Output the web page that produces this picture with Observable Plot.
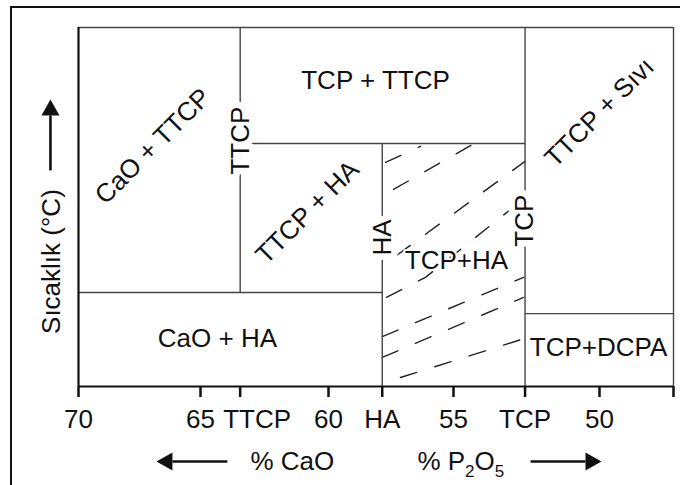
<!DOCTYPE html>
<html><head><meta charset="utf-8">
<script src="https://cdn.jsdelivr.net/npm/d3@7"></script>
<script src="https://cdn.jsdelivr.net/npm/@observablehq/plot@0.6"></script>
<style>
html,body{margin:0;padding:0;background:#fff;overflow:hidden;}
#wrap{position:relative;width:680px;height:485px;overflow:hidden;}
#border{position:absolute;left:10px;top:6px;width:720px;height:540px;border-top:2.5px solid #111;border-left:2.5px solid #111;}
#chart{position:absolute;left:0;top:0;}
</style></head><body>
<div id="wrap"><div id="border"></div><div id="chart"></div></div>
<script>
// x axis (% CaO, decreasing to the right): tick values and their labels
const tickValues = [70, 65, 63.45, 60, 57.85, 55, 52.55, 50, 47.5];
const tickLabels = ["70", "65", "TTCP", "60", "HA", "55", "TCP", "50", ""];
// compounds (composition lines) and where their names sit on the line (temperature units 0-100)
const compounds = ["TTCP", "HA", "TCP"];
const compoundCaO = [63.45, 57.85, 52.55];
const compoundLabelT = [68.5, 41.5, 46.2];
// phase boundary segments
const boundX1 = [63.45, 63.45, 57.85, 70, 52.55, 52.55];
const boundY1 = [100, 67.7, 67.7, 26.2, 100, 20.3];
const boundX2 = [63.45, 52.55, 57.85, 57.85, 52.55, 47.5];
const boundY2 = [26.2, 67.7, 0, 26.2, 0, 20.3];
// phase region labels
const regionNames = ["CaO + TTCP", "TCP + TTCP", "TTCP + HA", "TTCP + Sıvı", "TCP+HA", "CaO + HA", "TCP+DCPA"];
const regionX = [66.95, 58.12, 60.82, 50.0, 54.9, 64.34, 50.03];
const regionT = [66.9, 85.2, 48.5, 76.3, 35.1, 13.4, 10.9];
const regionAngle = [-45, 0, -45, -45, 0, 0, 0];
// dashed hatch lines in the TCP+HA field: [CaO, T] points
const hatchLines = [
  [[57.12, 2.5], [52.67, 13.1]],
  [[57.85, 8.1], [52.60, 24.8]],
  [[57.85, 13.9], [52.60, 30.4]],
  [[57.68, 24.8], [56.12, 30.4], [53.05, 49.3]],
  [[57.28, 36.5], [52.55, 62.7]],
  [[57.40, 54.9], [54.35, 67.4]],
  [[57.72, 62.4], [56.32, 66.9]]
];
// axis titles and direction arrows
const titles = ["Sıcaklık (°C)", "% CaO", "% P2O5"];
const titleX = [71.1, 61.41, 54.75];
const titleT = [34.8, -20.9, -20.9];
const titleAngle = [-90, 0, 0];
const arrowX1 = [71.15, 63.95, 52.36];
const arrowY1 = [60.2, -20.9, -20.9];
const arrowX2 = [71.15, 66.15, 50.48];
const arrowY2 = [75.5, -20.9, -20.9];
const arrowDir = [0, -90, 90];
// breakpoints of the schematic (non-uniform) % CaO axis
const warpDomain = [47.5, 50, 55, 60, 65, 70];
const warpRange = [595, 521, 375, 250, 122, 0];

const warp = d3.scaleLinear().domain(warpDomain).range(warpRange);
const labelOf = new Map(tickValues.map((v, i) => [v, tickLabels[i]]));
const hatchRows = hatchLines.flatMap((pts, k) => pts.map(([x, y]) => ({x, y, k})));
const bIdx = d3.range(boundX1.length);
const aIdx = d3.range(arrowX1.length);
const ink = "#111";
const lineCol = "#444";

const chart = Plot.plot({
  width: 680,
  height: 485,
  marginTop: 27,
  marginBottom: 99,
  marginLeft: 78,
  marginRight: 7,
  style: {fontFamily: "'Liberation Sans', Arial, Helvetica, sans-serif", fontSize: "26px", color: ink, background: "transparent"},
  x: {transform: warp, domain: [warp(70), warp(47.5)], axis: null},
  y: {domain: [0, 100], axis: null},
  marks: [
    // hatching
    Plot.line(hatchRows, {x: "x", y: "y", z: "k", stroke: "#222", strokeWidth: 1.4, strokeDasharray: "17,19"}),
    // phase boundaries
    Plot.link(bIdx, {x1: i => boundX1[i], y1: i => boundY1[i], x2: i => boundX2[i], y2: i => boundY2[i], stroke: lineCol, strokeWidth: 1.4}),
    // frame
    Plot.ruleY([100], {x1: 70, x2: 47.5, stroke: lineCol, strokeWidth: 1.4}),
    Plot.ruleX([47.5], {y1: 0, y2: 100, stroke: lineCol, strokeWidth: 1.4}),
    Plot.ruleX([70], {y1: 0, y2: 100, stroke: ink, strokeWidth: 2.2}),
    Plot.ruleY([0], {x1: 70, x2: 47.5, stroke: ink, strokeWidth: 2.2}),
    // x axis
    Plot.axisX(tickValues, {tickSize: 11, tickPadding: 12, strokeWidth: 2.5, stroke: ink, fill: ink,
      tickFormat: d => (labelOf.get(d) === "TTCP" ? "" : labelOf.get(d)), label: null}),
    Plot.axisX([63.45], {tickSize: 0, tickPadding: 23, dx: 17, fill: ink, tickFormat: d => labelOf.get(d), label: null}),
    // compound names on their lines
    Plot.text(compounds, {x: (d, i) => compoundCaO[i], y: (d, i) => compoundLabelT[i], text: d => d, rotate: -90,
      fill: ink, stroke: "white", strokeWidth: 13}),
    // region labels
    Plot.text(regionNames, {x: (d, i) => regionX[i], y: (d, i) => regionT[i], text: d => d, rotate: (d, i) => regionAngle[i],
      fill: ink, stroke: "white", strokeWidth: 4}),
    // axis titles
    Plot.text(titles, {x: (d, i) => titleX[i], y: (d, i) => titleT[i], text: d => d, rotate: (d, i) => titleAngle[i], fill: ink}),
    // arrows
    Plot.link(aIdx, {x1: i => arrowX1[i], y1: i => arrowY1[i], x2: i => arrowX2[i], y2: i => arrowY2[i], stroke: ink, strokeWidth: 2.6}),
    Plot.vector(aIdx, {x: i => arrowX2[i], y: i => arrowY2[i], rotate: i => arrowDir[i], length: 16, r: 9,
      shape: "spike", anchor: "start", fill: ink, stroke: "none"})
  ]
});
document.getElementById("chart").appendChild(chart);

// subscripts for P2O5
chart.querySelectorAll("text").forEach(t => {
  if (t.textContent === "% P2O5") {
    t.textContent = "";
    const parts = [["% P", 0, null], ["2", 7, "17px"], ["O", -7, null], ["5", 7, "17px"]];
    for (const [s, dy, fs] of parts) {
      const ts = document.createElementNS("http://www.w3.org/2000/svg", "tspan");
      ts.textContent = s;
      if (dy) ts.setAttribute("dy", dy);
      if (fs) ts.setAttribute("font-size", fs);
      t.appendChild(ts);
    }
  }
});
</script>
</body></html>
